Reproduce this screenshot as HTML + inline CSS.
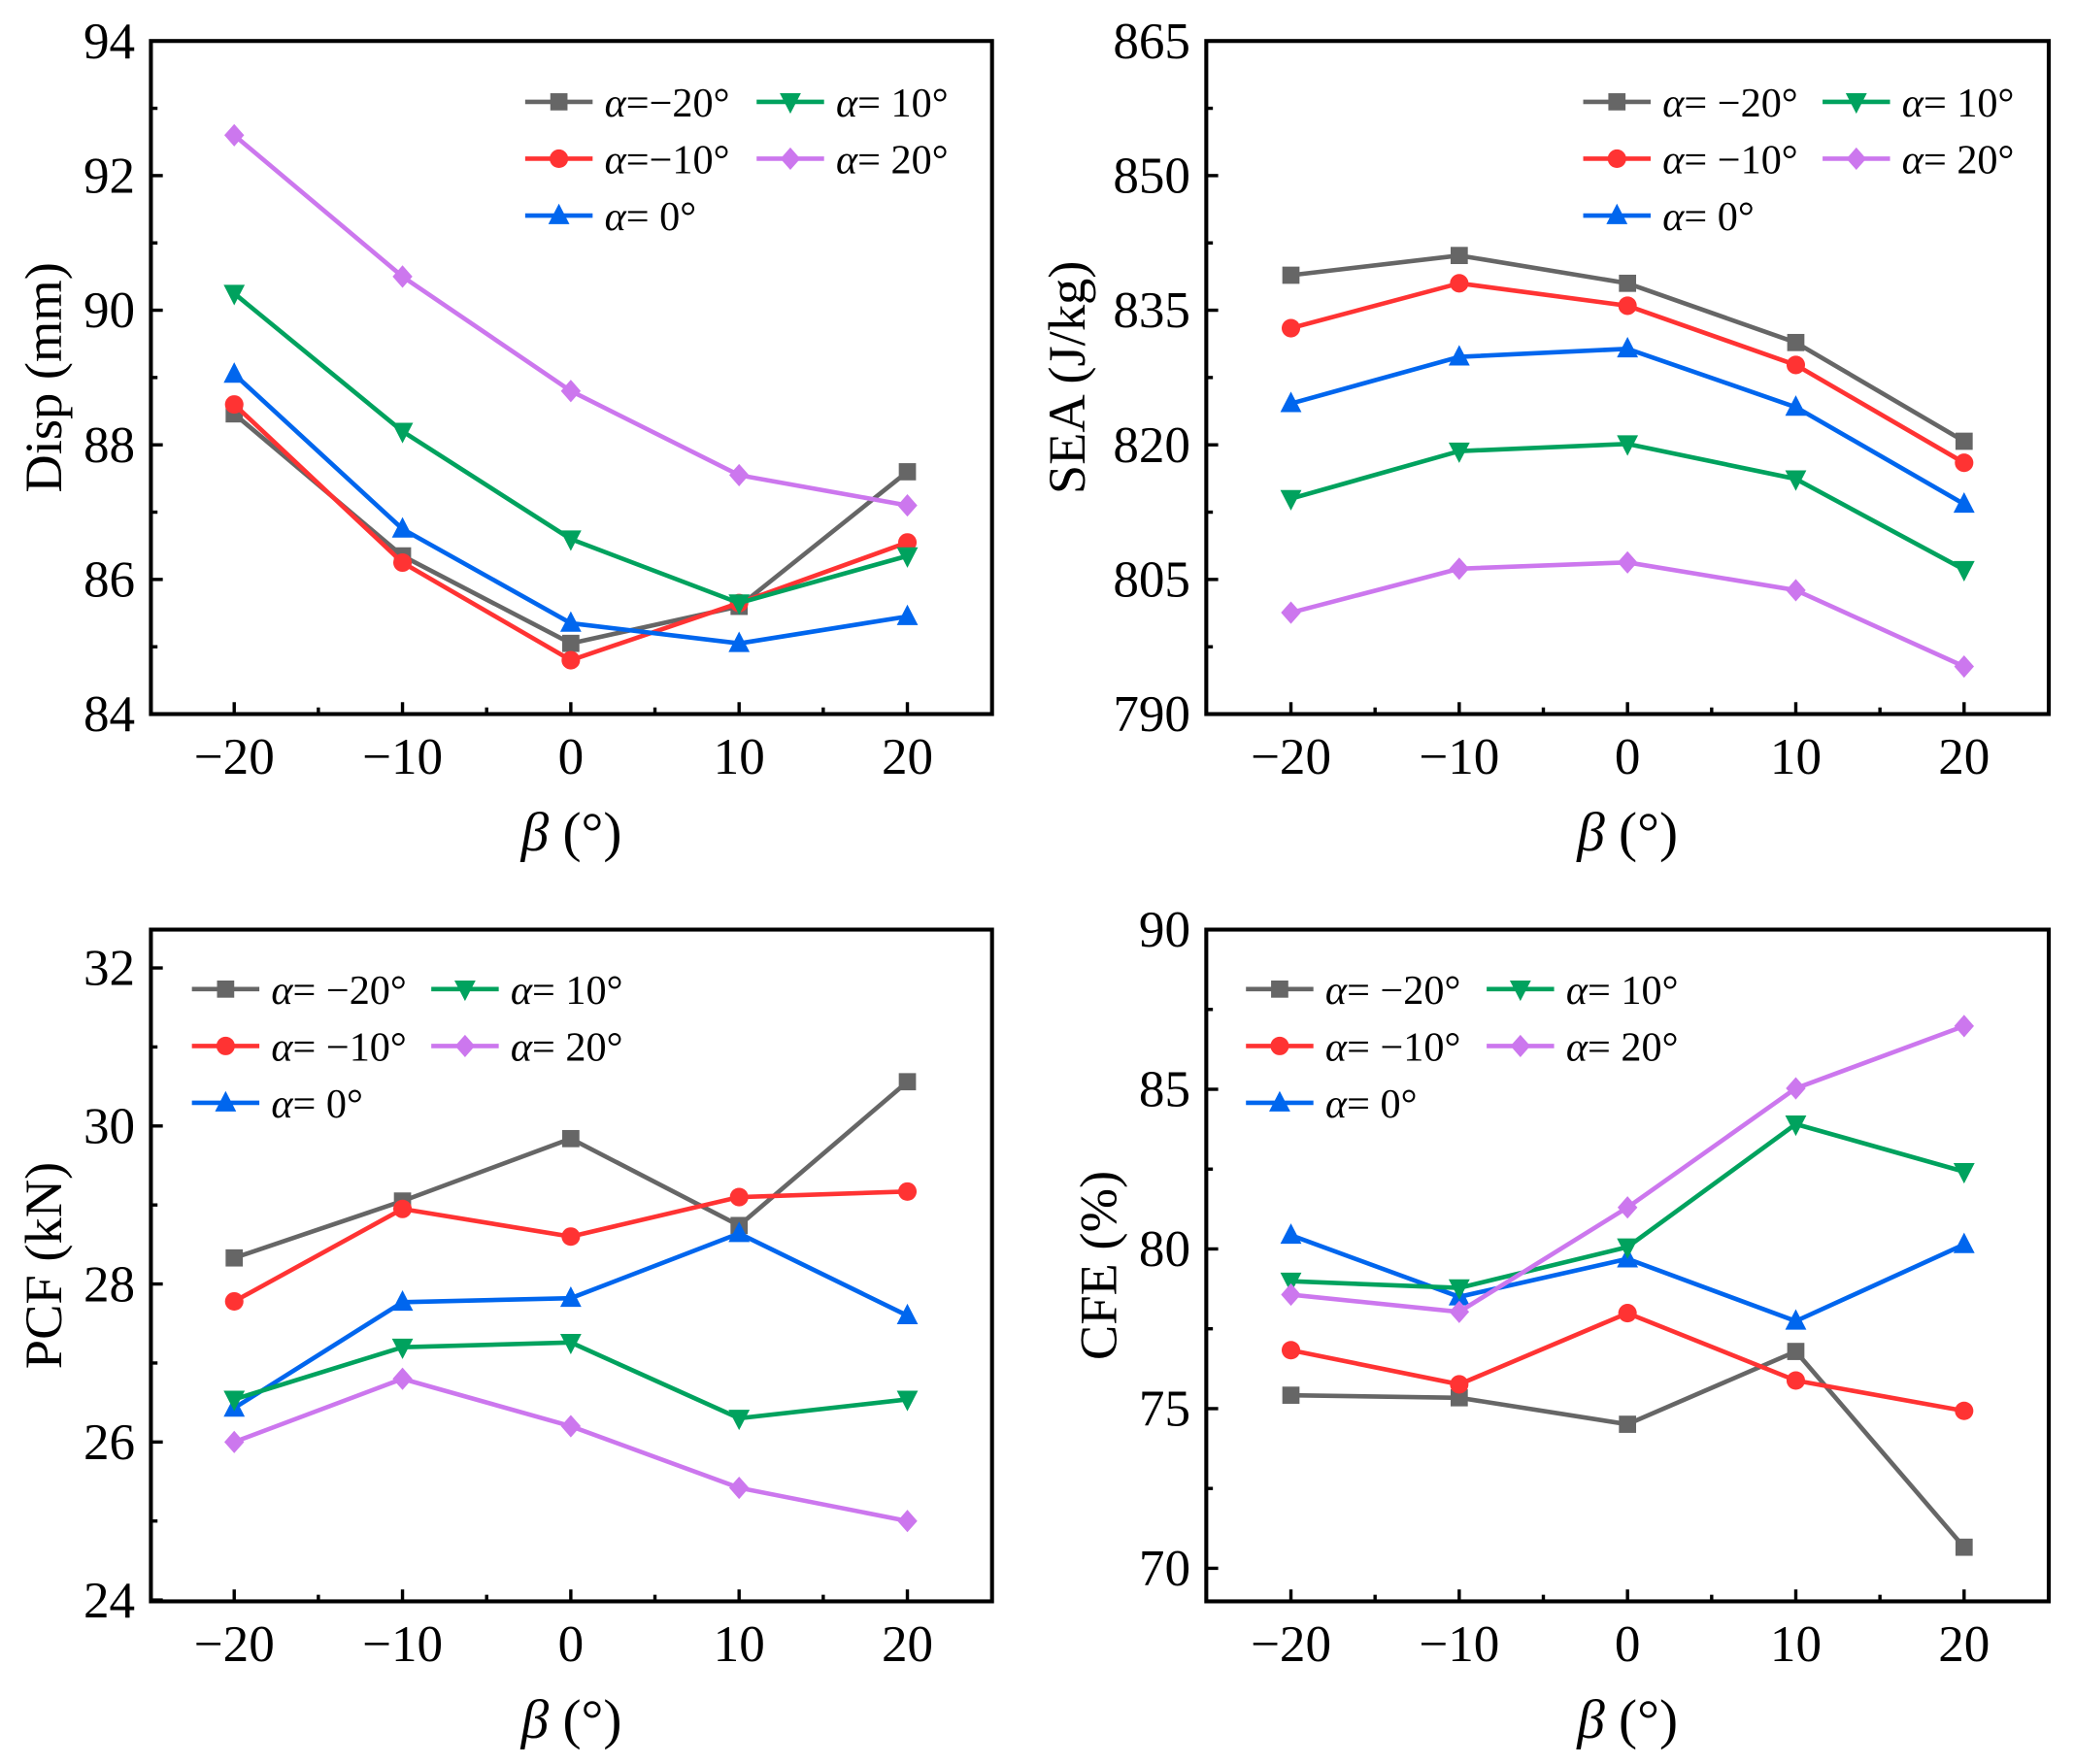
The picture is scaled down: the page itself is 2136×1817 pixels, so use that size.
<!DOCTYPE html>
<html><head><meta charset="utf-8"><style>
html,body{margin:0;padding:0;background:#fff;}
svg{display:block;}
svg text{font-family:"Liberation Serif","Times New Roman",serif;fill:#000;}
</style></head><body>
<svg id="fig" width="2136" height="1817" viewBox="0 0 1568 1334" xmlns="http://www.w3.org/2000/svg" font-family="Liberation Serif, Times New Roman, serif"></svg>
<script>
const betaValues = [-20, -10, 0, 10, 20];
const xTickLabels = ["\u221220", "\u221210", "0", "10", "20"];
const seriesNames = ["\u03b1=\u221220\u00b0", "\u03b1=\u221210\u00b0", "\u03b1= 0\u00b0", "\u03b1= 10\u00b0", "\u03b1= 20\u00b0"];
const legendLabels = ["\u03b1= \u221220\u00b0", "\u03b1= \u221210\u00b0", "\u03b1= 0\u00b0", "\u03b1= 10\u00b0", "\u03b1= 20\u00b0"];
const seriesColors = ["#666666", "#ff3333", "#0066ee", "#00a25e", "#cc77ee"];
const seriesMarkers = ["square", "circle", "up", "down", "diamond"];

const dispGray = [88.46, 86.35, 85.05, 85.6, 87.6];
const dispRed = [88.6, 86.25, 84.8, 85.65, 86.55];
const dispBlue = [89.05, 86.75, 85.35, 85.05, 85.45];
const dispGreen = [90.25, 88.2, 86.6, 85.65, 86.35];
const dispPurple = [92.6, 90.5, 88.8, 87.55, 87.1];
const dispTicks = [84, 86, 88, 90, 92, 94];

const seaGray = [838.9, 841.1, 838.0, 831.4, 820.4];
const seaRed = [833.0, 838.0, 835.5, 828.9, 818.0];
const seaBlue = [824.6, 829.8, 830.7, 824.2, 813.4];
const seaGreen = [814.0, 819.3, 820.1, 816.2, 806.1];
const seaPurple = [801.3, 806.2, 806.9, 803.8, 795.3];
const seaTicks = [790, 805, 820, 835, 850, 865];

const pcfGray = [28.33, 29.05, 29.84, 28.74, 30.56];
const pcfRed = [27.78, 28.95, 28.6, 29.1, 29.17];
const pcfBlue = [26.43, 27.77, 27.82, 28.64, 27.6];
const pcfGreen = [26.54, 27.2, 27.26, 26.3, 26.54];
const pcfPurple = [26.0, 26.8, 26.2, 25.42, 25.0];
const pcfTicks = [24, 26, 28, 30, 32];

const cfeGray = [75.42, 75.34, 74.51, 76.79, 70.66];
const cfeRed = [76.83, 75.76, 77.99, 75.88, 74.93];
const cfeBlue = [80.43, 78.5, 79.69, 77.74, 80.14];
const cfeGreen = [78.99, 78.78, 80.06, 83.91, 82.42];
const cfePurple = [78.57, 78.03, 81.3, 85.03, 86.98];
const cfeTicks = [70, 75, 80, 85, 90];

const NS = "http://www.w3.org/2000/svg";
const svg = document.getElementById("fig");
function mk(tag, attrs, parent) {
  const e = document.createElementNS(NS, tag);
  for (const k in attrs) e.setAttribute(k, attrs[k]);
  (parent || svg).appendChild(e);
  return e;
}
function marker(g, type, cx, cy, color) {
  let e;
  if (type === "square") e = mk("rect", {x: cx-6.5, y: cy-6.5, width: 13, height: 13, fill: color}, g);
  else if (type === "circle") e = mk("circle", {cx: cx, cy: cy, r: 7, fill: color}, g);
  else if (type === "up") e = mk("polygon", {points: `${cx},${cy-9} ${cx+8},${cy+6.5} ${cx-8},${cy+6.5}`, fill: color}, g);
  else if (type === "down") e = mk("polygon", {points: `${cx},${cy+9} ${cx+8},${cy-6.5} ${cx-8},${cy-6.5}`, fill: color}, g);
  else e = mk("polygon", {points: `${cx},${cy-8.5} ${cx+7.5},${cy} ${cx},${cy+8.5} ${cx-7.5},${cy}`, fill: color}, g);
  
  
  return e;
}

function panel(cfg) {
  const g = mk("g", {});
  
  
  const L = cfg.box[0], T = cfg.box[1], R = cfg.box[2], B = cfg.box[3];
  const xs = v => cfg.x0 + (v - (-20)) / 40 * (cfg.x1 - cfg.x0);
  const ys = v => cfg.py0 + (v - cfg.v0) / (cfg.v1 - cfg.v0) * (cfg.py1 - cfg.py0);
  cfg.series.forEach((arr, si) => {
    const sg = mk("g", {}, g);
    
    
    const pts = arr.map((v, i) => xs(betaValues[i]) + "," + ys(v)).join(" ");
    const pl = mk("polyline", {points: pts, fill: "none", stroke: seriesColors[si], "stroke-width": 3.4, "stroke-linejoin": "round"}, sg);
    
    
    arr.forEach((v, i) => marker(sg, seriesMarkers[si], xs(betaValues[i]), ys(v), seriesColors[si]));
  });
  const bx = mk("rect", {x: L, y: T, width: R-L, height: B-T, fill: "none", stroke: "#000", "stroke-width": 3}, g);
  
  
  betaValues.forEach((b, i) => {
    const x = xs(b);
    mk("line", {x1: x, y1: B, x2: x, y2: B-9, stroke: "#000", "stroke-width": 2.5}, g);
    if (i < betaValues.length - 1) {
      const xm = xs(b + 5);
      mk("line", {x1: xm, y1: B, x2: xm, y2: B-5, stroke: "#000", "stroke-width": 2.5}, g);
    }
    const t = mk("text", {x: x, y: B + 45, "font-size": 39, "text-anchor": "middle"}, g);
    t.textContent = xTickLabels[i];
    
    
  });
  cfg.ticks.forEach((v, i) => {
    const y = ys(v);
    mk("line", {x1: L, y1: y, x2: L+9, y2: y, stroke: "#000", "stroke-width": 2.5}, g);
    if (i < cfg.ticks.length - 1) {
      const ym = ys((v + cfg.ticks[i+1]) / 2);
      mk("line", {x1: L, y1: ym, x2: L+5, y2: ym, stroke: "#000", "stroke-width": 2.5}, g);
    }
    const t = mk("text", {x: L - 12, y: y + 13, "font-size": 39, "text-anchor": "end"}, g);
    t.textContent = String(v);
    
    
  });
  const cx = (L + R) / 2;
  const xt = mk("text", {x: cx, y: B + 103, "font-size": 42, "text-anchor": "middle"}, g);
  xt.innerHTML = '<tspan font-style="italic">\u03b2</tspan> (\u00b0)';
  
  
  const ty = (T + B) / 2;
  const yt = mk("text", {x: 0, y: 0, "font-size": 40, "text-anchor": "middle", transform: `translate(${L - cfg.ytOff + 14},${ty}) rotate(-90)`}, g);
  yt.textContent = cfg.ytitle;
  
  
  const lg = mk("g", {}, g);
  
  
  const order = [[0,0,0],[1,0,1],[2,0,2],[3,1,0],[4,1,1]];
  const labels = cfg.legendLabels;
  order.forEach(([si, col, row]) => {
    const lx = cfg.leg[0] + col * cfg.legColW;
    const ly = cfg.leg[1] + row * 43;
    const eg = mk("g", {}, lg);
    
    
    mk("line", {x1: lx, y1: ly, x2: lx + 51, y2: ly, stroke: seriesColors[si], "stroke-width": 3.4}, eg);
    marker(eg, seriesMarkers[si], lx + 25.5, ly, seriesColors[si]);
    const t = mk("text", {x: lx + 60, y: ly + 11, "font-size": 31}, eg);
    const lab = labels[si];
    t.innerHTML = '<tspan font-style="italic">\u03b1</tspan>' + lab.slice(1);
  });
}

panel({name: "disp-panel", key: "disp", box: [114, 31, 750, 540], x0: 177, x1: 686, v0: 84, v1: 94, py0: 540, py1: 31,
  ticks: dispTicks, ytitle: "Disp (mm)", ytOff: 82, series: [dispGray, dispRed, dispBlue, dispGreen, dispPurple],
  leg: [397, 77], legColW: 175, legendLabels: seriesNames});
panel({name: "sea-panel", key: "sea", box: [912, 31, 1549, 540], x0: 976, x1: 1485, v0: 790, v1: 865, py0: 540, py1: 31,
  ticks: seaTicks, ytitle: "SEA (J/kg)", ytOff: 106, series: [seaGray, seaRed, seaBlue, seaGreen, seaPurple],
  leg: [1197, 77], legColW: 181, legendLabels: legendLabels});
panel({name: "pcf-panel", key: "pcf", box: [114, 703, 750, 1211], x0: 177, x1: 686, v0: 24, v1: 32, py0: 1210, py1: 732,
  ticks: pcfTicks, ytitle: "PCF (kN)", ytOff: 82, series: [pcfGray, pcfRed, pcfBlue, pcfGreen, pcfPurple],
  leg: [145, 748], legColW: 181, legendLabels: legendLabels});
panel({name: "cfe-panel", key: "cfe", box: [912, 703, 1549, 1211], x0: 976, x1: 1485, v0: 70, v1: 90, py0: 1186, py1: 703,
  ticks: cfeTicks, ytitle: "CFE (%)", ytOff: 82, series: [cfeGray, cfeRed, cfeBlue, cfeGreen, cfePurple],
  leg: [942, 748], legColW: 182, legendLabels: legendLabels});
</script>
</body></html>
